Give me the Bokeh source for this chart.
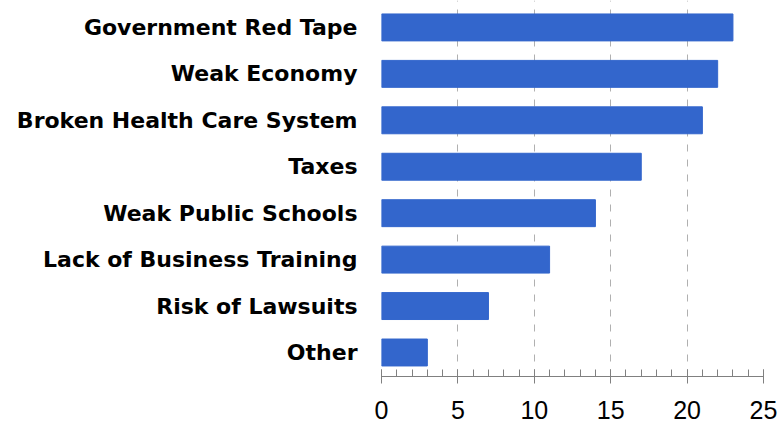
from bokeh.plotting import figure
from bokeh.models import FixedTicker, ColumnDataSource
from bokeh.embed import file_html
from bokeh.resources import INLINE

categories = ["Government Red Tape", "Weak Economy", "Broken Health Care System",
              "Taxes", "Weak Public Schools", "Lack of Business Training",
              "Risk of Lawsuits", "Other"]
values = [23, 22, 21, 17, 14, 11, 7, 3]
x_ticks = [0, 5, 10, 15, 20, 25]

n = len(categories)
ypos = [n - 1 - i for i in range(n)]
src = ColumnDataSource(dict(y=ypos, v=values, name=categories))

p = figure(width=779, height=426, output_backend="svg", toolbar_location=None,
           x_range=(0, 25), y_range=(-0.517, 7.58),
           min_border_left=381, min_border_right=16, min_border_top=0, min_border_bottom=50)
p.outline_line_color = None

p.hbar(y="y", right="v", left=0, height=0.58, source=src, color="#3366cc")

p.xaxis.ticker = FixedTicker(ticks=x_ticks, minor_ticks=list(range(0, 26)))
p.xaxis.axis_line_color = "#808080"
p.xaxis.major_tick_line_color = "#808080"
p.xaxis.minor_tick_line_color = "#808080"
p.xaxis.major_tick_in = 7
p.xaxis.major_tick_out = 7
p.xaxis.minor_tick_in = 7
p.xaxis.minor_tick_out = 0
p.xaxis.major_label_text_font = "Liberation Sans"
p.xaxis.major_label_text_font_size = "25px"
p.xaxis.major_label_text_color = "black"
p.xaxis.major_label_standoff = 17

p.yaxis.ticker = FixedTicker(ticks=ypos, minor_ticks=[])
p.yaxis.major_label_overrides = {y: c for y, c in zip(ypos, categories)}
p.yaxis.axis_line_color = None
p.yaxis.major_tick_line_color = None
p.yaxis.minor_tick_line_color = None
p.yaxis.major_label_text_font = "DejaVu Sans"
p.yaxis.major_label_text_font_style = "bold"
p.yaxis.major_label_text_font_size = "22px"
p.yaxis.major_label_text_color = "black"
p.yaxis.major_label_standoff = 18

p.xgrid.ticker = FixedTicker(ticks=x_ticks)
p.xgrid.grid_line_color = "#b0b0b0"
p.xgrid.grid_line_dash = "7 8"
p.xgrid.grid_line_width = 1
p.ygrid.grid_line_color = None

open("out.html", "w").write(file_html(p, INLINE))
